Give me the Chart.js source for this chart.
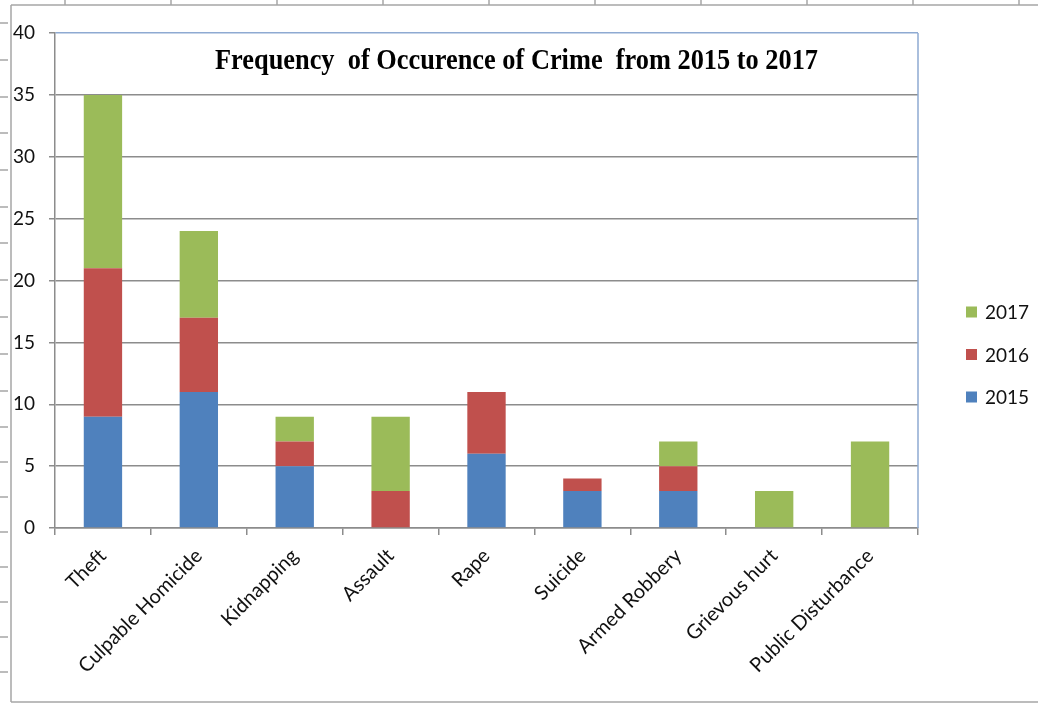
<!DOCTYPE html>
<html>
<head>
<meta charset="utf-8">
<script src="https://cdn.jsdelivr.net/npm/chart.js@4/dist/chart.umd.min.js"></script>
<style>
    html, body { margin: 0; padding: 0; background: #fff; }
    #wrap { width: 1038px; height: 704px; position: relative; }
</style>
</head>
<body>
<div id="wrap"><canvas id="crimeChart" width="1038" height="704"></canvas></div>
<script>
// Crime counts per category, stacked by year
const categories = ['Theft', 'Culpable Homicide', 'Kidnapping', 'Assault', 'Rape', 'Suicide', 'Armed Robbery', 'Grievous hurt', 'Public Disturbance'];
const years = ['2015', '2016', '2017'];
const counts2015 = [9, 11, 5, 0, 6, 3, 3, 0, 0];
const counts2016 = [12, 6, 2, 3, 5, 1, 2, 0, 0];
const counts2017 = [14, 7, 2, 6, 0, 0, 2, 3, 7];
const yTicks = [0, 5, 10, 15, 20, 25, 30, 35, 40];

const COLORS = ['#4f81bd', '#c0504d', '#9bbb59'];
const GRID = '#8c8c8c';
const FRAME_BLUE = '#8eaad2';
const LABEL_FONT = 'Lato, "Open Sans", sans-serif';

// spreadsheet cell lines behind the chart object
const sheetLines = {
    id: 'sheetLines',
    beforeDraw(chart) {
        const c = chart.ctx;
        c.save();
        c.fillStyle = '#fff';
        c.fillRect(0, 0, chart.width, chart.height);
        c.strokeStyle = '#a6a6a6';
        c.lineWidth = 1.5;
        c.beginPath();
        c.moveTo(11, 5); c.lineTo(chart.width, 5);
        c.moveTo(11, 5); c.lineTo(11, 702);
        c.moveTo(11, 702); c.lineTo(chart.width, 702);
        [65, 171, 277, 383, 489, 595, 701, 807, 913, 1019].forEach(x => { c.moveTo(x, 0); c.lineTo(x, 5); });
        [23, 60, 97, 133, 170, 207, 243, 280, 317, 354, 391, 427, 462, 497, 532, 567, 602, 637, 672].forEach(y => { c.moveTo(0, y); c.lineTo(8, y); });
        c.stroke();
        c.restore();
    }
};

// title inside the plot area, right border and legend
const extras = {
    id: 'extras',
    afterDraw(chart) {
        const c = chart.ctx;
        const area = chart.chartArea;
        c.save();
        c.strokeStyle = FRAME_BLUE;
        c.lineWidth = 1.5;
        c.beginPath();
        c.moveTo(area.right, area.top);
        c.lineTo(area.right, area.bottom);
        c.stroke();

        const title = 'Frequency  of Occurence of Crime  from 2015 to 2017';
        c.font = 'bold 30px "Liberation Serif", "Times New Roman", serif';
        c.fillStyle = '#000';
        c.textBaseline = 'alphabetic';
        c.textAlign = 'left';
        const w = c.measureText(title).width;
        const sx = 603 / w;
        c.translate(215, 69);
        c.scale(sx, 1);
        c.fillText(title, 0, 0);
        c.restore();

        // legend, newest year on top
        c.save();
        c.font = '19px ' + LABEL_FONT;
        c.textBaseline = 'middle';
        c.textAlign = 'left';
        const ds = chart.data.datasets.slice().reverse();
        ds.forEach((d, i) => {
            const y = 312 + i * 42.5;
            c.fillStyle = d.backgroundColor;
            c.fillRect(966, y - 5.5, 11, 11);
            c.fillStyle = '#111';
            c.fillText(d.label, 985, y + 1);
        });
        c.restore();
    }
};

const ctx = document.getElementById('crimeChart').getContext('2d');
new Chart(ctx, {
    type: 'bar',
    data: {
        labels: categories,
        datasets: [
            { label: years[0], data: counts2015, backgroundColor: COLORS[0] },
            { label: years[1], data: counts2016, backgroundColor: COLORS[1] },
            { label: years[2], data: counts2017, backgroundColor: COLORS[2] }
        ]
    },
    options: {
        responsive: false,
        animation: false,
        layout: { padding: { left: 0, top: 33, right: 120, bottom: 0 } },
        datasets: { bar: { barPercentage: 0.4, categoryPercentage: 1, borderWidth: 0 } },
        plugins: { legend: { display: false }, title: { display: false }, tooltip: { enabled: false } },
        scales: {
            x: {
                stacked: true,
                afterFit: s => { s.height = 176; },
                border: { color: GRID, width: 1.5 },
                grid: { drawOnChartArea: false, drawTicks: true, tickLength: 7, color: GRID, lineWidth: 1.5, offset: true },
                ticks: {
                    color: '#111',
                    font: { family: LABEL_FONT, size: 20 },
                    minRotation: 45, maxRotation: 45,
                    padding: 9,
                    autoSkip: false
                }
            },
            y: {
                stacked: true,
                min: 0, max: 40,
                afterFit: s => { s.width = 55; },
                afterBuildTicks: s => { s.ticks = yTicks.map(v => ({ value: v })); },
                border: { color: GRID, width: 1.5 },
                grid: {
                    color: c => c.tick && c.tick.value === 40 ? FRAME_BLUE : GRID,
                    tickColor: GRID,
                    lineWidth: 1.5,
                    tickLength: 6
                },
                ticks: {
                    color: '#111',
                    font: { family: LABEL_FONT, size: 19 },
                    padding: 14
                }
            }
        }
    },
    plugins: [sheetLines, extras]
});
</script>
</body>
</html>
